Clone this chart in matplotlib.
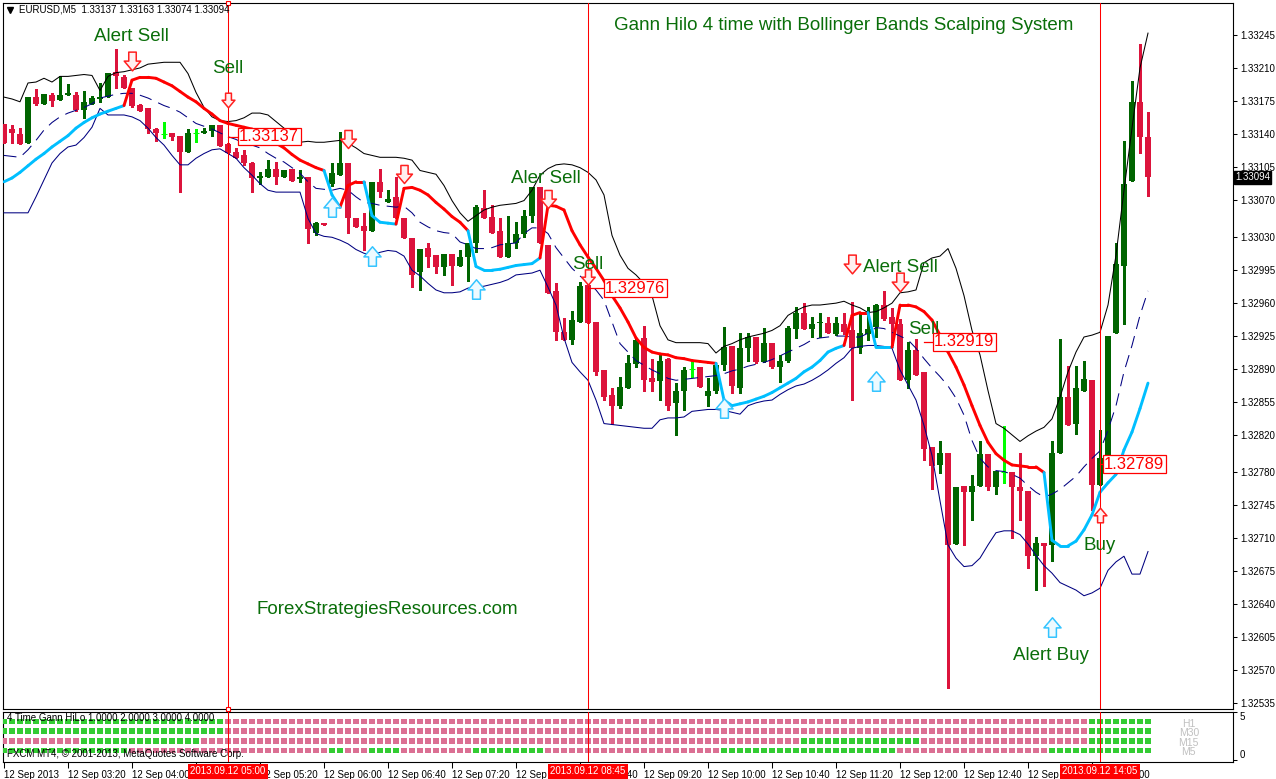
import matplotlib
matplotlib.use("Agg")
import matplotlib.pyplot as plt
import numpy as np
from matplotlib.path import Path
from matplotlib.collections import LineCollection
from matplotlib.transforms import blended_transform_factory

plt.rcParams['font.family'] = ['Liberation Sans', 'DejaVu Sans']

# EURUSD M5, 12 Sep 2013, one bar every 5 minutes from 02:40 to 14:35.
# Prices are written as the last five digits: 33150 -> 1.33150
opens = [33150, 33145, 33140, 33130, 33179, 33172, 33181, 33176, 33181, 33181,
         33165, 33172, 33177, 33179, 33206, 33200, 33189, 33171, 33167, 33145,
         33140, 33141, 33138, 33121, 33141, 33141, 33143, 33149, 33129, 33121,
         33117, 33109, 33093, 33094, 33103, 33094, 33103, 33092, 33094, 33035,
         33045, 33087, 33096, 33109, 33051, 33042, 33037, 33089, 33068, 33073,
         33050, 33029, 32993, 33019, 33011, 32998, 33012, 33000, 33009, 33024,
         33061, 33052, 33037, 33009, 33024, 33034, 33053, 33083, 33022, 32973,
         32929, 32921, 32940, 32979, 32940, 32889, 32862, 32851, 32870, 32895,
         32923, 32880, 32877, 32901, 32854, 32867, 32890, 32892, 32861, 32867,
         32894, 32914, 32870, 32912, 32924, 32897, 32918, 32892, 32898, 32932,
         32949, 32932, 32939, 32939, 32927, 32938, 32931, 32912, 32927, 32935,
         32958, 32945, 32938, 32878, 32910, 32887, 32807, 32788, 32801, 32704,
         32766, 32759, 32766, 32800, 32765, 32781, 32781, 32765, 32760, 32691,
         32705, 32703, 32801, 32860, 32832, 32867, 32878, 32767, 32795, 32928,
         33000, 33090, 33174, 33137]
highs = [33150, 33149, 33146, 33179, 33188, 33182, 33183, 33201, 33193, 33184,
         33185, 33180, 33194, 33205, 33230, 33202, 33189, 33172, 33167, 33146,
         33152, 33141, 33138, 33145, 33145, 33146, 33149, 33149, 33130, 33125,
         33123, 33110, 33099, 33112, 33110, 33102, 33103, 33101, 33094, 33046,
         33045, 33109, 33142, 33109, 33051, 33056, 33089, 33103, 33080, 33094,
         33050, 33029, 33018, 33024, 33011, 33012, 33012, 33016, 33024, 33064,
         33080, 33064, 33050, 33053, 33046, 33059, 33083, 33083, 33022, 32981,
         32944, 32952, 32982, 32981, 32940, 32889, 32870, 32881, 32905, 32923,
         32936, 32901, 32905, 32902, 32875, 32892, 32899, 32892, 32880, 32894,
         32935, 32914, 32928, 32928, 32924, 32934, 32918, 32905, 32936, 32956,
         32960, 32945, 32950, 32945, 32945, 32949, 32961, 32949, 32956, 32959,
         32973, 32955, 32943, 32919, 32922, 32887, 32807, 32814, 32801, 32765,
         32766, 32777, 32814, 32800, 32782, 32829, 32781, 32801, 32760, 32711,
         32705, 32814, 32922, 32893, 32893, 32898, 32878, 32825, 32925, 33024,
         33132, 33196, 33235, 33163]
lows = [33130, 33130, 33129, 33130, 33171, 33172, 33170, 33176, 33181, 33164,
        33157, 33172, 33174, 33179, 33189, 33189, 33169, 33164, 33141, 33132,
        33135, 33133, 33078, 33121, 33131, 33141, 33138, 33127, 33120, 33114,
        33107, 33078, 33087, 33094, 33087, 33094, 33090, 33089, 33024, 33032,
        33043, 33085, 33096, 33035, 33041, 33016, 33037, 33073, 33067, 33050,
        33029, 32977, 32974, 32998, 32992, 32990, 32979, 33000, 32984, 33014,
        33050, 33035, 33009, 33009, 33019, 33030, 33046, 33024, 32971, 32921,
        32921, 32917, 32940, 32939, 32884, 32857, 32832, 32849, 32870, 32892,
        32867, 32867, 32857, 32846, 32820, 32846, 32881, 32871, 32851, 32864,
        32889, 32865, 32865, 32899, 32896, 32897, 32891, 32876, 32897, 32923,
        32932, 32924, 32924, 32928, 32926, 32927, 32857, 32907, 32921, 32924,
        32942, 32915, 32878, 32870, 32884, 32793, 32762, 32779, 32551, 32704,
        32703, 32730, 32766, 32761, 32757, 32769, 32710, 32730, 32679, 32655,
        32659, 32686, 32801, 32831, 32821, 32867, 32740, 32767, 32795, 32928,
        32938, 33090, 33120, 33074]
closes = [33130, 33141, 33129, 33179, 33172, 33182, 33175, 33181, 33183, 33165,
          33174, 33178, 33179, 33205, 33201, 33189, 33170, 33164, 33145, 33141,
          33140, 33137, 33121, 33141, 33141, 33143, 33149, 33127, 33120, 33114,
          33109, 33093, 33095, 33103, 33094, 33102, 33090, 33094, 33039, 33045,
          33043, 33098, 33109, 33050, 33041, 33037, 33089, 33078, 33071, 33050,
          33029, 32990, 33018, 33009, 32998, 33012, 32999, 33009, 33024, 33062,
          33050, 33035, 33009, 33024, 33034, 33053, 33083, 33024, 32971, 32929,
          32921, 32942, 32978, 32939, 32887, 32860, 32851, 32871, 32896, 32921,
          32878, 32876, 32899, 32851, 32867, 32889, 32890, 32871, 32867, 32894,
          32913, 32872, 32912, 32924, 32897, 32918, 32892, 32899, 32934, 32949,
          32932, 32938, 32940, 32928, 32939, 32929, 32912, 32928, 32933, 32958,
          32943, 32938, 32878, 32910, 32884, 32805, 32787, 32801, 32703, 32765,
          32759, 32766, 32800, 32765, 32782, 32781, 32765, 32760, 32691, 32705,
          32702, 32801, 32860, 32831, 32870, 32879, 32767, 32795, 32925, 33002,
          33087, 33174, 33137, 33094]

bb_upper = [33179, 33177, 33174, 33194, 33195, 33199, 33195, 33201, 33201, 33202,
            33203, 33202, 33186, 33201, 33205, 33206, 33208, 33210, 33214, 33215,
            33216, 33216, 33216, 33204, 33184, 33168, 33158, 33154, 33153, 33154,
            33157, 33162, 33162, 33160, 33153, 33146, 33138, 33131, 33132, 33131,
            33131, 33132, 33133, 33130, 33125, 33119, 33117, 33115, 33115, 33115,
            33114, 33112, 33101, 33099, 33097, 33085, 33069, 33056, 33047, 33053,
            33059, 33062, 33064, 33065, 33066, 33069, 33080, 33096, 33103, 33107,
            33108, 33107, 33104, 33099, 33091, 33075, 33032, 33011, 32997, 32990,
            32981, 32968, 32936, 32921, 32918, 32918, 32918, 32918, 32917, 32907,
            32914, 32917, 32921, 32924, 32926, 32928, 32931, 32936, 32947, 32952,
            32956, 32958, 32958, 32959, 32960, 32962, 32958, 32955, 32950, 32951,
            32955, 32960, 32971, 32972, 32974, 33003, 33008, 33010, 33018, 32997,
            32968, 32931, 32905, 32867, 32832, 32827, 32820, 32813, 32819, 32824,
            32828, 32837, 32860, 32887, 32908, 32924, 32926, 32929, 32958, 33011,
            33080, 33146, 33210, 33247]
bb_middle = [33117, 33116, 33115, 33123, 33133, 33144, 33152, 33158, 33162, 33165,
             33168, 33172, 33178, 33180, 33182, 33183, 33183, 33181, 33178, 33174,
             33170, 33167, 33163, 33157, 33151, 33148, 33145, 33141, 33137, 33134,
             33130, 33128, 33125, 33119, 33114, 33110, 33104, 33098, 33089, 33082,
             33081, 33080, 33082, 33080, 33073, 33067, 33066, 33064, 33063, 33062,
             33063, 33056, 33046, 33041, 33037, 33035, 33034, 33025, 33022, 33018,
             33018, 33019, 33022, 33023, 33024, 33034, 33040, 33040, 33034, 33019,
             33008, 32997, 32989, 32981, 32974, 32963, 32940, 32917, 32908, 32899,
             32894, 32889, 32885, 32880, 32878, 32879, 32880, 32881, 32882, 32883,
             32885, 32888, 32890, 32893, 32895, 32897, 32900, 32904, 32908, 32912,
             32916, 32921, 32923, 32924, 32925, 32925, 32924, 32924, 32928, 32934,
             32933, 32929, 32925, 32921, 32912, 32901, 32891, 32882, 32872, 32859,
             32841, 32814, 32795, 32786, 32782, 32781, 32778, 32774, 32766, 32759,
             32754, 32757, 32762, 32769, 32776, 32786, 32795, 32803, 32825, 32851,
             32887, 32915, 32947, 32973]
bb_lower = [33056, 33056, 33056, 33056, 33073, 33091, 33109, 33119, 33126, 33128,
            33136, 33147, 33167, 33160, 33160, 33160, 33158, 33154, 33146, 33136,
            33128, 33117, 33107, 33107, 33114, 33119, 33123, 33124, 33119, 33114,
            33104, 33096, 33087, 33080, 33078, 33078, 33078, 33078, 33050, 33034,
            33031, 33030, 33027, 33023, 33017, 33013, 33011, 33014, 33016, 33015,
            33010, 32995, 32989, 32981, 32974, 32971, 32971, 32972, 32976, 32977,
            32978, 32980, 32982, 32985, 32990, 32991, 32992, 32995, 32977, 32958,
            32923, 32897, 32887, 32878, 32857, 32832, 32831, 32830, 32829, 32828,
            32827, 32827, 32836, 32838, 32838, 32839, 32845, 32846, 32847, 32847,
            32846, 32844, 32842, 32851, 32854, 32856, 32857, 32863, 32868, 32872,
            32874, 32878, 32883, 32889, 32896, 32902, 32912, 32914, 32915, 32915,
            32914, 32912, 32889, 32873, 32857, 32830, 32798, 32750, 32703, 32689,
            32680, 32681, 32689, 32703, 32716, 32718, 32718, 32714, 32704, 32692,
            32681, 32673, 32663, 32659, 32655, 32649, 32652, 32657, 32676, 32685,
            32691, 32672, 32672, 32696]

gann_hilo = [33089, 33093, 33099, 33106, 33113, 33119, 33126, 33132, 33138, 33146,
             33152, 33157, 33161, 33164, 33167, 33170, 33197, 33200, 33200, 33199,
             33195, 33191, 33185, 33179, 33174, 33167, 33161, 33154, 33151, 33149,
             33147, 33145, 33141, 33135, 33130, 33125, 33118, 33112, 33108, 33104,
             33101, 33075, 33062, 33085, 33089, 33089, 33053, 33046, 33045, 33044,
             33082, 33083, 33080, 33075, 33067, 33060, 33052, 33046, 33037, 32999,
             32995, 32995, 32996, 32998, 33000, 33001, 33002, 33008, 33064, 33063,
             33059, 33037, 33022, 33009, 32997, 32984, 32968, 32955, 32940, 32923,
             32913, 32908, 32906, 32905, 32902, 32901, 32899, 32898, 32897, 32896,
             32857, 32851, 32853, 32855, 32858, 32861, 32865, 32870, 32875, 32880,
             32887, 32892, 32899, 32908, 32912, 32915, 32947, 32950, 32950, 32913,
             32913, 32913, 32958, 32958, 32956, 32951, 32942, 32926, 32908, 32892,
             32873, 32851, 32830, 32812, 32800, 32793, 32788, 32787, 32786, 32786,
             32780, 32708, 32702, 32702, 32707, 32719, 32735, 32759, 32769, 32778,
             32804, 32823, 32848, 32875]
# bars where the Gann HiLo line is below price (buy, drawn light blue)
gann_buy_runs = [(0, 15), (41, 42), (46, 49), (59, 67), (90, 105), (109, 111), (131, 143)]

# 4 Time Gann HiLo sub window: bars that are green in each row
rows = ['H1', 'M30', 'M15', 'M5']
row_green = {
    'H1': [(0, 27), (136, 143)],
    'M30': [(0, 27), (136, 143)],
    'M15': [(10, 24), (100, 114), (136, 143)],
    'M5': [(0, 15), (41, 42), (46, 49), (59, 67), (90, 111), (131, 143)],
}

price_ticks = [1.33245, 1.33210, 1.33175, 1.33140, 1.33105, 1.33070, 1.33030,
               1.32995, 1.32960, 1.32925, 1.32890, 1.32855, 1.32820, 1.32780,
               1.32745, 1.32710, 1.32675, 1.32640, 1.32605, 1.32570, 1.32535]
time_tick_bars = list(range(0, 137, 8))
time_tick_labels = ['12 Sep 2013', '12 Sep 03:20', '12 Sep 04:00', '12 Sep 04:40',
                    '12 Sep 05:20', '12 Sep 06:00', '12 Sep 06:40', '12 Sep 07:20',
                    '12 Sep 08:00', '12 Sep 08:40', '12 Sep 09:20', '12 Sep 10:00',
                    '12 Sep 10:40', '12 Sep 11:20', '12 Sep 12:00', '12 Sep 12:40',
                    '12 Sep 13:20', '12 Sep 14:00']

vline_bars = [28, 73, 137]
vline_labels = ['2013.09.12 05:00', '2013.09.12 08:45', '2013.09.12 14:05']

sell_arrow_bars = [16, 28, 43, 50, 68, 73, 106, 112]
sell_arrow_prices = [1.33217, 1.33176, 1.33134, 1.33097, 1.33071, 1.32988, 1.33002, 1.32982]
sell_arrow_sizes = [13.5, 10.5, 13, 13, 13, 11, 13.5, 13.5]
buy_arrow_bars = [41, 46, 59, 90, 109, 131]
buy_arrow_prices = [1.33062, 1.33010, 1.32975, 1.32849, 1.32877, 1.32616]
entry_up_bar, entry_up_price = 137, 1.32735

signal_texts = [('Alert Sell', 15.9, 1.33243), ('Sell', 28.0, 1.33209),
                ('Aler Sell', 67.75, 1.33093), ('Sell', 73.0, 1.33001),
                ('Alert Sell', 112.0, 1.32998), ('Sell', 115.0, 1.32932),
                ('Buy', 136.9, 1.32702), ('Alert Buy', 130.9, 1.32585)]

level_prices = [1.33137, 1.32976, 1.32919, 1.32789]
level_bars = [28, 73, 115, 137]
level_gaps = [1.25, 2.0, 1.1, 0.35]

last_price = 1.33094


def px(points):
    return 1.0 + np.asarray(points, dtype=float) / 1e5


o, h, l, c = px(opens), px(highs), px(lows), px(closes)
n = len(o)
x = np.arange(n)

BULL, BEAR, DOJI = '#006400', '#dc143c', '#00ff00'
RED, SKY = '#ff0000', '#00bfff'
TXT_GREEN = '#0a6e0a'

W, H = 1276, 779
fig = plt.figure(figsize=(W / 100, H / 100), dpi=100)
fig.patch.set_facecolor('white')
ax = fig.add_axes([3 / W, 1 - 709 / H, 1230 / W, 706 / H])
ax2 = fig.add_axes([3 / W, 1 - 762 / H, 1230 / W, 50 / H])

XL = (-0.125, 153.625)
YL = (1.3252862, 1.3327901)
ax.set_xlim(*XL)
ax.set_ylim(*YL)

# candles
col = np.where(c > o, BULL, np.where(c < o, BEAR, DOJI))
ax.vlines(x, l, h, colors=col, lw=0.75, zorder=3, antialiased=False)
body = c != o
ax.bar(x[body], np.abs(c - o)[body], bottom=np.minimum(o, c)[body], width=0.66,
       color=col[body], lw=0, zorder=3.5, antialiased=False)
ax.hlines(o[~body], x[~body] - 0.33, x[~body] + 0.33, colors=DOJI, lw=0.75, zorder=3.5)

# bollinger bands
ax.plot(x, px(bb_upper), color='black', lw=0.75, zorder=4)
ax.plot(x, px(bb_lower), color='#000080', lw=0.75, zorder=4)
ax.plot(x, px(bb_middle), color='#000080', lw=0.75, ls=(0, (12, 7)), zorder=4)

# gann hilo, coloured by side
g = px(gann_hilo)
buy = np.zeros(n, dtype=bool)
for a, b in gann_buy_runs:
    buy[a:b + 1] = True
segs = [[(j - 1, g[j - 1]), (j, g[j])] for j in range(1, n)]
segcol = [SKY if buy[j] else RED for j in range(1, n)]
ax.add_collection(LineCollection(segs, colors=segcol, linewidths=2.1,
                                 capstyle='round', joinstyle='round', zorder=5))

# vertical lines
for b in vline_bars:
    ax.axvline(b, color=RED, lw=0.75, zorder=6)
    ax2.axvline(b, color=RED, lw=0.75, zorder=6)
ax.plot([28, 28], list(YL), ls='none', marker='s', ms=3.5, mfc='white',
        mec=RED, mew=0.8, clip_on=False, zorder=7)

# signal arrows
down = Path([(-0.2, 0.5), (0.2, 0.5), (0.2, 0.02), (0.44, 0.02), (0, -0.5),
             (-0.44, 0.02), (-0.2, 0.02), (-0.2, 0.5)],
            [1, 2, 2, 2, 2, 2, 2, 79])
up = Path([(vx, -vy) for vx, vy in down.vertices], down.codes)
for b, p, s in zip(sell_arrow_bars, sell_arrow_prices, sell_arrow_sizes):
    ax.plot(b, p, marker=down, ms=s, mfc='#fff0f0', mec='#ff2020', mew=1.1, ls='none', zorder=8)
for b, p in zip(buy_arrow_bars, buy_arrow_prices):
    ax.plot(b, p, marker=up, ms=14, mfc='#eefaff', mec='#33c4ff', mew=1.1, ls='none', zorder=8)
ax.plot(entry_up_bar, entry_up_price, marker=up, ms=10.5, mfc='#fff0f0', mec='#ff2020',
        mew=1.1, ls='none', zorder=8)

for t, b, p in signal_texts:
    ax.text(b, p, t, color=TXT_GREEN, fontsize=13.5, ha='center', va='center', zorder=9)

ax.text(104.9, 1.33255, 'Gann Hilo 4 time with Bollinger Bands Scalping System',
        color=TXT_GREEN, fontsize=13.5, ha='center', va='center', zorder=9)
ax.text(47.9, 1.32634, 'ForexStrategiesResources.com', color=TXT_GREEN,
        fontsize=13.5, ha='center', va='center', zorder=9)

# price level labels
for p, b, gap in zip(level_prices, level_bars, level_gaps):
    ax.plot([b, b + gap], [p, p], color=RED, lw=0.9, zorder=9)
    ax.text(b + gap + 0.15, p, f'{p:.5f}', color=RED, fontsize=12, ha='left', va='center',
            zorder=10, bbox=dict(boxstyle='square,pad=0.08', fc='white', ec=RED, lw=0.9))

# header
ax.plot([6.5 / 1230], [1 - 7 / 706], marker='v', ms=4, color='black',
        transform=ax.transAxes, clip_on=False)
ax.text(16 / 1230, 1 - 7 / 706, 'EURUSD,M5  1.33137 1.33163 1.33074 1.33094',
        transform=ax.transAxes, fontsize=7, va='center', ha='left', zorder=10)

# price axis
ax.set_xticks([])
ax.yaxis.tick_right()
ax.set_yticks(price_ticks)
ax.set_yticklabels([f'{v:.5f}' for v in price_ticks])
ax.tick_params(axis='y', labelsize=7, length=3, width=0.75, pad=2, direction='out')
trans = blended_transform_factory(ax.transAxes, ax.transData)
ax.text(1.0 + 2 / 1230, last_price, f'{last_price:.5f}', transform=trans, color='white',
        fontsize=7, ha='left', va='center', zorder=10, clip_on=False,
        bbox=dict(boxstyle='square,pad=0.15', fc='black', ec='black'))

for a in (ax, ax2):
    for sp in a.spines.values():
        sp.set_color('black')
        sp.set_linewidth(0.8)
    a.set_facecolor('white')

# sub window
ax2.set_xlim(*XL)
ax2.set_ylim(-0.2, 5.0)
for k, r in enumerate(rows):
    yv = 4 - k
    green = np.zeros(n, dtype=bool)
    for a, b in row_green[r]:
        green[a:b + 1] = True
    ax2.scatter(x, np.full(n, yv), marker='s', s=17, lw=0,
                c=np.where(green, '#33cc33', '#db7093'), zorder=3)
    ax2.text(148.1, yv - 0.2, r, color='#c0c0c0', fontsize=7.5, ha='center', va='center')
ax2.text(4 / 1230, 0.88, '4 Time Gann HiLo 1.0000 2.0000 3.0000 4.0000',
         transform=ax2.transAxes, fontsize=7, va='center', zorder=5)
ax2.text(4 / 1230, 0.16, 'FXCM MT4, \u00a9 2001-2013, MetaQuotes Software Corp.',
         transform=ax2.transAxes, fontsize=7, va='center', zorder=5)

ax2.yaxis.tick_right()
ax2.set_yticks([5, 0])
ax2.set_yticklabels(['5', '0'])
ylabs = ax2.get_yticklabels()
ylabs[0].set_va('top')
ylabs[1].set_va('bottom')
ax2.tick_params(axis='y', labelsize=7, length=3, width=0.75, pad=2)

ax2.set_xticks(time_tick_bars)
ax2.set_xticklabels(time_tick_labels, ha='left')
ax2.tick_params(axis='x', labelsize=7, length=4, width=0.75, pad=1.5)

tx = blended_transform_factory(ax2.transData, ax2.transAxes)
for b, t in zip(vline_bars, vline_labels):
    ax2.text(b, -0.19, t, transform=tx, color='white', fontsize=7, ha='center', va='center',
             zorder=20, clip_on=False,
             bbox=dict(boxstyle='square,pad=0.25', fc='#ff0000', ec='none'))

fig.savefig('out.png', dpi=100, facecolor='white')
